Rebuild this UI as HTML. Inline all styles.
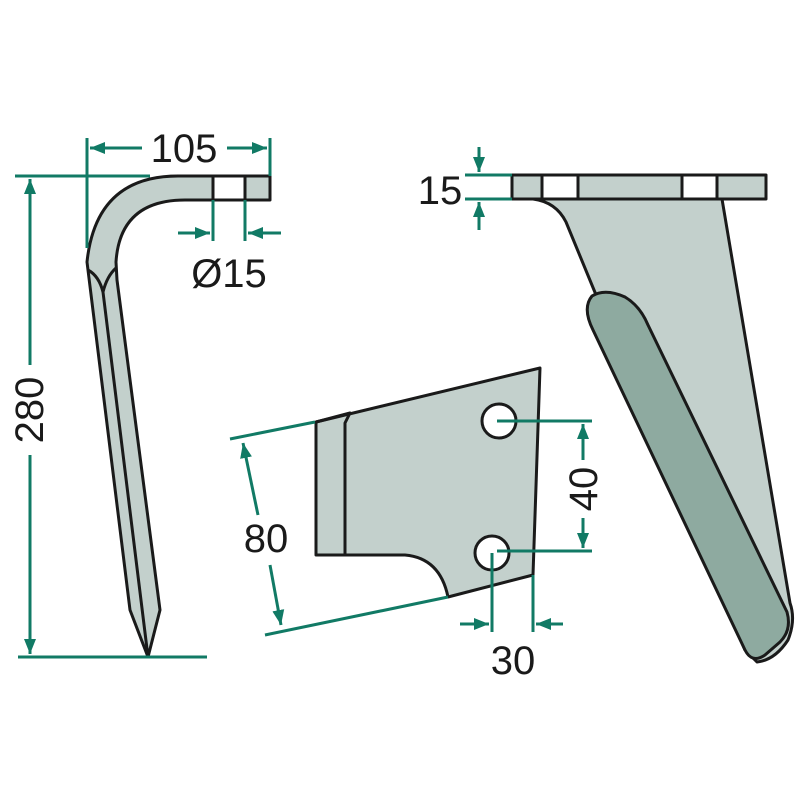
<!DOCTYPE html>
<html><head><meta charset="utf-8"><style>html,body{margin:0;padding:0;background:#fff}svg{display:block}</style></head>
<body>
<svg width="800" height="800" viewBox="0 0 800 800" xmlns="http://www.w3.org/2000/svg" font-family="Liberation Sans, sans-serif">
<defs>
<marker id="a" viewBox="0 0 10 10" refX="10" refY="5" markerWidth="5" markerHeight="5" orient="auto-start-reverse" markerUnits="strokeWidth"><path d="M0,1 L10,5 L0,9 Z" fill="#117a65"/></marker>
</defs>
<g fill="#c3d0cc" stroke="#1a1a1a" stroke-width="3" stroke-linejoin="round">
<!-- tine -->
<path d="M270,176 L178,176 Q96,176 87,262 L130,610 L148,657 L160,610 L117,280 L116,262 Q120,200 185,200 L270,200 Z"/>
<rect x="213" y="176" width="32" height="24" fill="#fff"/>
<path d="M88,270 Q99,276 103,292 Q107,276 116,268 M103,292 L148,657" fill="none"/>
<!-- middle plate -->
<path d="M316,422 L540,368 L533,575 L448,597 Q440,558 405,555 L316,555 Z"/>
<path d="M316,422 L350,413 L345,423 L345,555" fill="none"/>
<circle cx="499" cy="421" r="17" fill="#fff"/>
<circle cx="492" cy="553" r="17" fill="#fff"/>
<!-- right part -->
<path d="M533,199 Q556,202 566,222 L594,290 L745,650 L757,662 Q775,660 788,640 Q796,620 790,603 L722,199 Z"/>
<path d="M592,296 Q605,288 625,297 Q640,306 648,325 L787,612 Q792,630 780,642 L765,655 Q752,664 745,650 L593,330 Q582,308 592,296 Z" fill="#8eaaa0"/>
<rect x="512" y="175" width="254" height="24"/>
<rect x="542" y="175" width="36" height="24" fill="#fff"/>
<rect x="682" y="175" width="35" height="24" fill="#fff"/>
</g>
<g stroke="#117a65" stroke-width="3" fill="none">
<line x1="15" y1="176" x2="150" y2="176"/>
<line x1="18" y1="657" x2="207" y2="657"/>
<line x1="30" y1="179" x2="30" y2="365" marker-start="url(#a)"/>
<line x1="30" y1="455" x2="30" y2="654" marker-end="url(#a)"/>
<line x1="87" y1="138" x2="87" y2="248"/>
<line x1="270" y1="138" x2="270" y2="176"/>
<line x1="90" y1="148" x2="142" y2="148" marker-start="url(#a)"/>
<line x1="227" y1="148" x2="267" y2="148" marker-end="url(#a)"/>
<line x1="213" y1="200" x2="213" y2="241"/>
<line x1="245" y1="200" x2="245" y2="241"/>
<line x1="178" y1="233" x2="210" y2="233" marker-end="url(#a)"/>
<line x1="281" y1="233" x2="248" y2="233" marker-end="url(#a)"/>
<line x1="465" y1="175" x2="512" y2="175"/>
<line x1="465" y1="199" x2="512" y2="199"/>
<line x1="479" y1="147" x2="479" y2="172" marker-end="url(#a)"/>
<line x1="479" y1="230" x2="479" y2="202" marker-end="url(#a)"/>
<line x1="230" y1="439" x2="315" y2="422"/>
<line x1="265" y1="635" x2="448" y2="597"/>
<line x1="243" y1="443" x2="258" y2="515" marker-start="url(#a)"/>
<line x1="270" y1="565" x2="281" y2="625" marker-end="url(#a)"/>
<line x1="497" y1="421" x2="592" y2="421"/>
<line x1="497" y1="551" x2="592" y2="551"/>
<line x1="583" y1="424" x2="583" y2="460" marker-start="url(#a)"/>
<line x1="583" y1="518" x2="583" y2="548" marker-end="url(#a)"/>
<line x1="492" y1="553" x2="492" y2="632"/>
<line x1="533" y1="575" x2="533" y2="632"/>
<line x1="460" y1="624" x2="489" y2="624" marker-end="url(#a)"/>
<line x1="563" y1="624" x2="536" y2="624" marker-end="url(#a)"/>
</g>
<g fill="#1a1a1a" font-size="40" text-anchor="middle">
<text x="184" y="162">105</text>
<text x="229" y="287">Ø15</text>
<text x="440" y="204">15</text>
<text x="266" y="552">80</text>
<text x="513" y="674">30</text>
<text transform="translate(43,410) rotate(-90)">280</text>
<text transform="translate(597,489) rotate(-90)">40</text>
</g>
</svg>
</body></html>
